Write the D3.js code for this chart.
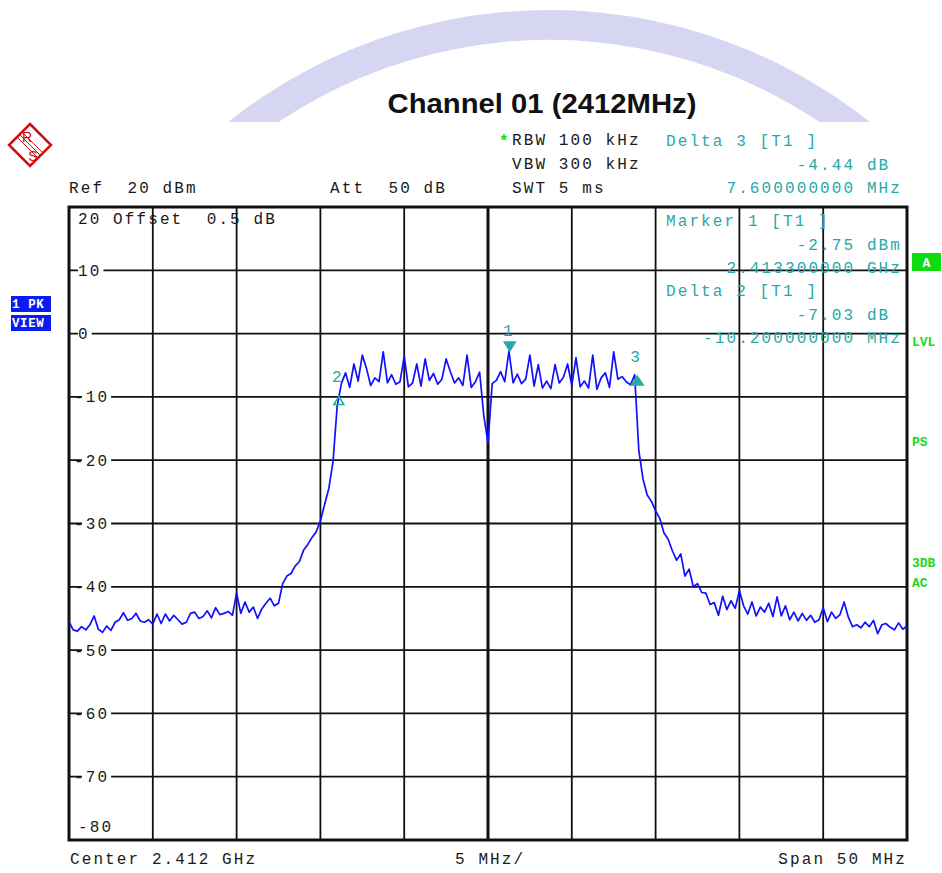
<!DOCTYPE html>
<html><head><meta charset="utf-8">
<script src="https://cdn.jsdelivr.net/npm/d3@7"></script>
<style>
html,body{margin:0;padding:0;background:#fff;}
text{white-space:pre;}
.mono{font-family:"Liberation Mono","DejaVu Sans Mono",monospace;font-size:16px;letter-spacing:2.1px;}
</style></head>
<body>
<svg id="chart" width="942" height="873"></svg>
<script>
// ---------- data ----------
const freqStartMHz = -25;      // offset from centre 2.412 GHz
const freqStepMHz = 0.25;
const levels = [
-45.5,-46.8,-47.0,-46.3,-46.8,-46.0,-44.6,-46.7,-47.2,-46.2,
-46.9,-45.6,-45.2,-44.1,-45.3,-45.0,-44.2,-45.4,-45.6,-45.2,
-45.9,-44.3,-45.8,-44.3,-45.4,-44.5,-45.2,-45.9,-45.6,-44.2,
-44.0,-45.0,-44.7,-43.8,-44.9,-43.3,-44.4,-44.2,-43.9,-44.5,
-41.0,-44.2,-42.4,-44.0,-43.2,-45.0,-43.5,-42.6,-41.8,-43.0,
-42.6,-39.5,-38.3,-37.9,-36.7,-36.0,-34.2,-33.3,-32.2,-31.3,
-29.6,-27.0,-24.5,-20.3,-11.5,-7.9,-6.2,-8.5,-4.8,-7.5,
-3.4,-5.5,-8.2,-7.0,-7.6,-2.9,-7.8,-6.5,-8.0,-7.6,
-3.6,-8.4,-7.8,-4.8,-8.3,-4.0,-7.4,-6.3,-8.0,-7.2,
-4.0,-6.0,-7.8,-7.0,-8.2,-3.4,-8.5,-7.6,-6.1,-13.0,
-17.3,-7.9,-7.4,-6.0,-7.6,-2.75,-7.8,-6.4,-7.9,-7.2,
-3.4,-8.3,-4.9,-8.6,-7.5,-8.7,-4.9,-7.8,-6.9,-4.8,
-8.2,-3.8,-8.4,-7.5,-8.6,-3.4,-8.8,-7.0,-6.2,-8.5,
-2.9,-7.2,-6.8,-7.6,-8.1,-6.5,-18.5,-23.0,-25.5,-26.5,
-28.0,-29.2,-31.5,-32.5,-34.3,-35.8,-34.8,-38.3,-37.2,-40.0,
-39.5,-40.9,-41.0,-42.8,-42.5,-44.5,-41.5,-43.6,-42.2,-43.4,
-40.6,-43.0,-44.3,-42.4,-44.6,-43.2,-44.0,-42.6,-44.7,-41.6,
-44.6,-43.0,-45.2,-44.0,-45.4,-44.2,-45.3,-44.5,-45.6,-45.2,
-43.3,-45.5,-44.0,-45.0,-44.4,-42.4,-44.8,-46.3,-46.0,-46.5,
-45.6,-46.3,-45.3,-47.4,-46.0,-45.8,-46.4,-46.8,-45.7,-46.7,
-46.2
];
const yTickValues = [10, 0, -10, -20, -30, -40, -50, -60, -70];
const markerNames = ["1", "2", "3"];
const markerFreqs = [1.3, -8.9, 8.9];
const markerLevels = [-2.75, -9.78, -7.19];
const markerKinds = ["down-filled", "up-open", "up-filled"];

const titleText = "Channel 01 (2412MHz)";
const headerLeft = [["Ref  20 dBm", 69, 193], ["Att  50 dB", 330, 193]];
const headerMid = [["RBW 100 kHz", 145], ["VBW 300 kHz", 169], ["SWT 5 ms", 193]];
const markerInfo = [
  ["Delta 3 [T1 ]", "-4.44 dB ", "7.600000000 MHz", 146],
  ["Marker 1 [T1 ]", "-2.75 dBm", "2.413300000 GHz", 226],
  ["Delta 2 [T1 ]", "-7.03 dB ", "-10.200000000 MHz", 296]
];
const sideLabels = [["LVL", 346], ["PS", 446], ["3DB", 567], ["AC", 587]];

// ---------- layout ----------
const svg = d3.select("#chart");
const L = 69, R = 907, T = 207, B = 840;
const x = d3.scaleLinear().domain([-25, 25]).range([L, R]);
const y = d3.scaleLinear().domain([-80, 20]).range([B, T]);
const teal = "#27a9a9", blue = "#1010ff", green = "#19d819", ink = "#1a1a1a";

// watermark arc (cut off at y = 122)
const defs = svg.append("defs");
defs.append("clipPath").attr("id", "wmclip").append("rect")
  .attr("x", 0).attr("y", 0).attr("width", 942).attr("height", 122);
svg.append("g").attr("clip-path", "url(#wmclip)")
  .append("path")
  .attr("transform", "translate(549,526)")
  .attr("d", d3.arc().innerRadius(486).outerRadius(516).startAngle(-Math.PI / 2).endAngle(Math.PI / 2)())
  .attr("fill", "#d6d6f2");

// title
svg.append("text").attr("x", 542).attr("y", 113).attr("text-anchor", "middle")
  .attr("font-family", "Liberation Sans, Arial, sans-serif").attr("font-weight", "bold")
  .attr("font-size", 27).attr("fill", "#111").attr("textLength", 309).attr("lengthAdjust", "spacingAndGlyphs")
  .text(titleText);

// R&S logo
const logo = svg.append("g").attr("transform", "translate(30,145)");
logo.append("path").attr("d", "M0,-21 L21,0 L0,21 L-21,0 Z").attr("fill", "none")
  .attr("stroke", "#cc1111").attr("stroke-width", 2.5);
[-2.5, 0, 2.5].forEach(o => logo.append("line")
  .attr("x1", -10 + o).attr("y1", -10 - o).attr("x2", 10 + o).attr("y2", 10 - o)
  .attr("stroke", "#cc1111").attr("stroke-width", 1));
logo.append("text").attr("x", -3).attr("y", -3).attr("text-anchor", "middle")
  .attr("font-family", "Liberation Sans, Arial").attr("font-size", 14).attr("fill", "#cc1111").text("R");
logo.append("text").attr("x", 3).attr("y", 16).attr("text-anchor", "middle")
  .attr("font-family", "Liberation Sans, Arial").attr("font-size", 14).attr("fill", "#cc1111").text("S");

// header texts
headerLeft.forEach(d => svg.append("text").attr("class", "mono").attr("x", d[1]).attr("y", d[2]).attr("fill", ink).text(d[0]));
headerMid.forEach(d => svg.append("text").attr("class", "mono").attr("x", 512).attr("y", d[1]).attr("fill", ink).text(d[0]));
svg.append("text").attr("class", "mono").attr("x", 499).attr("y", 146).attr("fill", green).attr("font-weight", "bold").text("*");

// side boxes (left)
[["1 PK", 296], ["VIEW", 315]].forEach(d => {
  svg.append("rect").attr("x", 11).attr("y", d[1]).attr("width", 40).attr("height", 16).attr("fill", "#0a1cf0");
  svg.append("text").attr("x", 12).attr("y", d[1] + 12).attr("fill", "#fff")
    .attr("font-family", "Liberation Mono, monospace").attr("font-weight", "bold").attr("font-size", 12.5).attr("letter-spacing", 0.6).text(d[0]);
});
// right side
svg.append("rect").attr("x", 912).attr("y", 253).attr("width", 29).attr("height", 18).attr("fill", "#10dd10");
svg.append("text").attr("x", 926.5).attr("y", 267).attr("text-anchor", "middle").attr("fill", "#fff")
  .attr("font-family", "Liberation Mono, monospace").attr("font-weight", "bold").attr("font-size", 13).text("A");
sideLabels.forEach(d => svg.append("text").attr("x", 912).attr("y", d[1]).attr("fill", green)
  .attr("font-family", "Liberation Mono, monospace").attr("font-weight", "bold").attr("font-size", 13).text(d[0]));

// grid
const g = svg.append("g");
const xTicks = d3.range(-25, 25.001, 5);
g.selectAll(".vg").data(xTicks).join("line")
  .attr("x1", d => x(d)).attr("x2", d => x(d)).attr("y1", T).attr("y2", B)
  .attr("stroke", "#111").attr("stroke-width", d => d === 0 ? 3 : 1.8);
g.selectAll(".hg").data(y.ticks(10)).join("line")
  .attr("x1", L).attr("x2", R).attr("y1", d => y(d)).attr("y2", d => y(d))
  .attr("stroke", "#111").attr("stroke-width", 1.8);

// y labels (white knock-out behind)
yTickValues.forEach(v => {
  const t = g.append("text").attr("class", "mono").attr("x", v < 0 ? 74 : 78).attr("y", y(v) + 5.5)
    .attr("letter-spacing", 0.6).attr("fill", ink).text(String(v));
  const bb = t.node().getBBox();
  g.insert("rect", () => t.node()).attr("x", bb.x + (v < 0 ? 8 : 0)).attr("y", y(v) - 3)
    .attr("width", bb.width - (v < 0 ? 8 : 0) + 2).attr("height", 6).attr("fill", "#fff");
});
g.append("text").attr("class", "mono").attr("x", 78).attr("y", 224).attr("fill", ink).text("20 Offset  0.5 dB");
g.append("text").attr("class", "mono").attr("x", 78).attr("y", 832).attr("letter-spacing", 0.6).attr("fill", ink).text("-80");

// marker info texts (over the grid)
markerInfo.forEach(d => {
  svg.append("text").attr("class", "mono").attr("x", 666).attr("y", d[3]).attr("fill", teal).text(d[0]);
  svg.append("text").attr("class", "mono").attr("x", 902).attr("y", d[3] + 23.5).attr("text-anchor", "end").attr("fill", teal).text(d[1]);
  svg.append("text").attr("class", "mono").attr("x", 902).attr("y", d[3] + 47).attr("text-anchor", "end").attr("fill", teal).text(d[2]);
});

// frame
svg.append("rect").attr("x", L).attr("y", T).attr("width", R - L).attr("height", B - T)
  .attr("fill", "none").attr("stroke", "#111").attr("stroke-width", 3);

// trace
const line = d3.line().x((d, i) => x(freqStartMHz + i * freqStepMHz)).y(d => y(d));
svg.append("path").datum(levels).attr("d", line).attr("fill", "none")
  .attr("stroke", blue).attr("stroke-width", 1.7).attr("stroke-linejoin", "round");

// markers
markerNames.forEach((name, i) => {
  const mx = x(markerFreqs[i]), my = y(markerLevels[i]);
  const kind = markerKinds[i];
  let pts, ly;
  if (kind === "down-filled") { pts = [[mx - 5.5, my - 9], [mx + 5.5, my - 9], [mx, my]]; ly = my - 15; }
  else if (kind === "up-open") { pts = [[mx, my + 1], [mx - 5, my + 9], [mx + 5, my + 9]]; ly = my - 14; }
  else { pts = [[mx, my - 3], [mx - 6, my + 6], [mx + 6, my + 6]]; ly = my - 17; }
  svg.append("path").attr("d", d3.line()(pts) + "Z")
    .attr("fill", kind === "up-open" ? "none" : teal).attr("stroke", teal).attr("stroke-width", 1.5);
  svg.append("text").attr("class", "mono").attr("x", mx - 1).attr("y", ly).attr("text-anchor", "middle")
    .attr("fill", teal).attr("letter-spacing", 0).text(name);
});

// bottom labels
svg.append("text").attr("class", "mono").attr("x", 70).attr("y", 864).attr("fill", ink).text("Center 2.412 GHz");
svg.append("text").attr("class", "mono").attr("x", 455).attr("y", 864).attr("fill", ink).text("5 MHz/");
svg.append("text").attr("class", "mono").attr("x", 907).attr("y", 864).attr("text-anchor", "end").attr("fill", ink).text("Span 50 MHz");
</script>
</body></html>
